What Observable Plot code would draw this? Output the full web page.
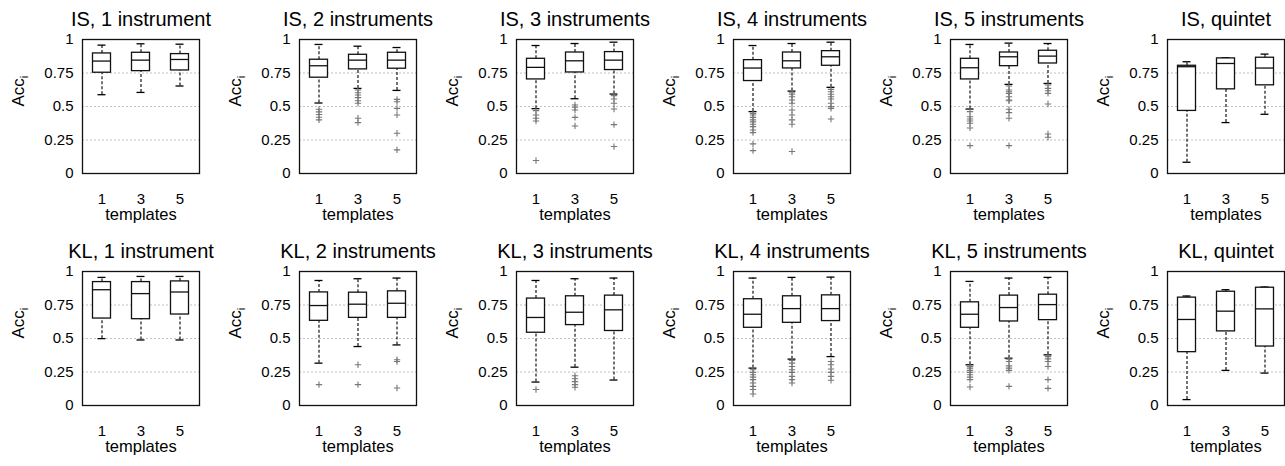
<!DOCTYPE html>
<html><head><meta charset="utf-8">
<script src="https://cdn.jsdelivr.net/npm/d3@7"></script>
<script src="https://cdn.jsdelivr.net/npm/@observablehq/plot@0.6"></script>
<style>
html,body{margin:0;padding:0;background:#fff;overflow:hidden;}
#chart{position:relative;width:1285px;height:466px;overflow:hidden;}
#chart svg{position:absolute;}
</style></head><body><div id="chart"></div>
<script>
const templates = ["1", "3", "5"];
const yTicks = [0, 0.25, 0.5, 0.75, 1];
const yTickLabels = ["0", "0.25", "0.5", "0.75", "1"];
const gridValues = [0.25, 0.5, 0.75];
const titles = ["IS, 1 instrument", "IS, 2 instruments", "IS, 3 instruments", "IS, 4 instruments", "IS, 5 instruments", "IS, quintet",
                "KL, 1 instrument", "KL, 2 instruments", "KL, 3 instruments", "KL, 4 instruments", "KL, 5 instruments", "KL, quintet"];

// each box: [lower whisker, Q1, median, Q3, upper whisker] for templates 1, 3, 5
const IS1_box = [[0.588,0.752,0.839,0.896,0.958],[0.605,0.764,0.846,0.901,0.968],[0.653,0.769,0.851,0.891,0.965]];
const IS1_out = [[],[],[]];
const IS2_box = [[0.526,0.715,0.804,0.849,0.963],[0.635,0.777,0.846,0.886,0.95],[0.62,0.782,0.846,0.901,0.94]];
const IS2_out = [[0.48,0.46,0.44,0.42,0.40],[0.623,0.603,0.586,0.566,0.543,0.524,0.412,0.38],[0.553,0.536,0.486,0.437,0.3,0.176]];
const IS3_box = [[0.484,0.702,0.792,0.856,0.955],[0.558,0.754,0.841,0.903,0.97],[0.593,0.772,0.846,0.906,0.98]];
const IS3_out = [[0.469,0.437,0.412,0.392,0.097],[0.511,0.494,0.474,0.419,0.355],[0.581,0.556,0.524,0.481,0.365,0.201]];
const IS4_box = [[0.462,0.69,0.787,0.846,0.955],[0.615,0.784,0.841,0.903,0.97],[0.643,0.804,0.871,0.913,0.98]];
const IS4_out = [[0.449,0.437,0.419,0.4,0.385,0.367,0.35,0.325,0.305,0.221,0.171],[0.603,0.591,0.573,0.548,0.524,0.474,0.437,0.4,0.367,0.164],[0.628,0.61,0.591,0.573,0.556,0.524,0.499,0.486,0.407]];
const IS5_box = [[0.481,0.702,0.789,0.856,0.963],[0.665,0.801,0.871,0.903,0.973],[0.672,0.821,0.876,0.916,0.97]];
const IS5_out = [[0.462,0.424,0.407,0.392,0.375,0.34,0.208],[0.653,0.623,0.61,0.598,0.573,0.548,0.543,0.479,0.454,0.412,0.208],[0.66,0.635,0.618,0.598,0.519,0.295,0.27]];
const ISQ_box = [[0.084,0.467,0.797,0.804,0.834],[0.38,0.628,0.821,0.859,0.864],[0.442,0.658,0.787,0.864,0.891]];
const ISQ_out = [[],[],[]];
const KL1_box = [[0.499,0.649,0.864,0.921,0.956],[0.489,0.644,0.835,0.921,0.963],[0.489,0.679,0.847,0.926,0.963]];
const KL1_out = [[],[],[]];
const KL2_box = [[0.316,0.632,0.746,0.844,0.933],[0.44,0.654,0.756,0.842,0.946],[0.452,0.654,0.763,0.852,0.951]];
const KL2_out = [[0.156],[0.304,0.156],[0.341,0.328,0.131]];
const KL3_box = [[0.175,0.543,0.657,0.798,0.933],[0.286,0.6,0.696,0.815,0.946],[0.19,0.556,0.714,0.82,0.951]];
const KL3_out = [[0.119],[0.222,0.2,0.178,0.156,0.136],[]];
const KL4_box = [[0.279,0.58,0.681,0.793,0.951],[0.346,0.617,0.723,0.815,0.956],[0.365,0.63,0.723,0.822,0.958]];
const KL4_out = [[0.267,0.247,0.23,0.212,0.193,0.168,0.143,0.119,0.086],[0.336,0.316,0.291,0.267,0.247,0.217,0.193,0.168],[0.328,0.304,0.272,0.247,0.217,0.188]];
const KL5_box = [[0.304,0.58,0.681,0.77,0.926],[0.353,0.627,0.731,0.82,0.951],[0.378,0.637,0.753,0.827,0.956]];
const KL5_out = [[0.291,0.279,0.262,0.247,0.23,0.212,0.193,0.138],[0.346,0.328,0.296,0.279,0.262,0.143],[0.365,0.348,0.328,0.291,0.193,0.128]];
const KLQ_box = [[0.044,0.398,0.642,0.805,0.817],[0.262,0.553,0.704,0.849,0.864],[0.242,0.44,0.721,0.879,0.884]];
const KLQ_out = [[],[],[]];

const boxSets = [IS1_box, IS2_box, IS3_box, IS4_box, IS5_box, ISQ_box, KL1_box, KL2_box, KL3_box, KL4_box, KL5_box, KLQ_box];
const outSets = [IS1_out, IS2_out, IS3_out, IS4_out, IS5_out, ISQ_out, KL1_out, KL2_out, KL3_out, KL4_out, KL5_out, KLQ_out];

const font = "'Liberation Sans', Arial, Helvetica, sans-serif";
const chart = document.getElementById("chart");
const tickTexts = new Set([...templates, ...yTickLabels]);

titles.forEach((title, i) => {
  const row = Math.floor(i / 6), col = i % 6;
  const boxes = templates.map((t, j) => {
    const b = boxSets[i][j];
    return {t, lo: b[0], q1: b[1], med: b[2], q3: b[3], hi: b[4]};
  });
  const outs = templates.flatMap((t, j) => outSets[i][j].map(v => ({t, v})));
  const svg = Plot.plot({
    width: 217, height: 233,
    marginLeft: 82, marginRight: 18, marginTop: 39, marginBottom: 60,
    style: {fontFamily: font, color: "#000", background: "transparent", overflow: "visible"},
    x: {type: "band", domain: templates, padding: 0, axis: null},
    y: {domain: [0, 1], axis: null},
    marks: [
      Plot.ruleY(gridValues, {stroke: "#b0b0b0", strokeDasharray: "2,2", strokeWidth: 0.8}),
      Plot.axisX(templates, {fontSize: 15, tickSize: 0, tickPadding: 20, label: null, fill: "#000"}),
      Plot.axisY(yTicks, {fontSize: 15, tickSize: 0, tickPadding: 9, label: null, fill: "#000",
                          tickFormat: d => yTickLabels[yTicks.indexOf(d)]}),
      Plot.ruleX(boxes, {x: "t", y1: "q3", y2: "hi", stroke: "#000", strokeWidth: 1.1, strokeDasharray: "3,2"}),
      Plot.ruleX(boxes, {x: "t", y1: "lo", y2: "q1", stroke: "#000", strokeWidth: 1.1, strokeDasharray: "3,2"}),
      Plot.tickY(boxes, {x: "t", y: "hi", insetLeft: 15.5, insetRight: 15.5, stroke: "#000", strokeWidth: 1.3}),
      Plot.tickY(boxes, {x: "t", y: "lo", insetLeft: 15.5, insetRight: 15.5, stroke: "#000", strokeWidth: 1.3}),
      Plot.barY(boxes, {x: "t", y1: "q1", y2: "q3", insetLeft: 10.5, insetRight: 10.5, fill: "white", stroke: "#111", strokeWidth: 1.3}),
      Plot.tickY(boxes, {x: "t", y: "med", insetLeft: 10.5, insetRight: 10.5, stroke: "#111", strokeWidth: 1.3}),
      Plot.dot(outs, {x: "t", y: "v", symbol: "plus", r: 2.2, stroke: "#777", strokeWidth: 1.1}),
      Plot.frame({stroke: "#111", strokeWidth: 1.3}),
      Plot.text([title], {text: d => d, frameAnchor: "top", dy: -20, fontSize: 20, lineAnchor: "middle", fill: "#000"}),
      Plot.text(["templates"], {text: d => d, frameAnchor: "bottom", dy: 41, fontSize: 16.5, lineAnchor: "middle", fill: "#000"}),
      Plot.text(["Acc"], {text: d => d, frameAnchor: "left", dx: -64, rotate: -90, fontSize: 17, lineAnchor: "middle", fill: "#000"})
    ]
  });
  svg.style.left = Math.round(col * 216.9) + "px";
  svg.style.top = (row * 232) + "px";
  const sel = d3.select(svg);
  sel.selectAll("text").filter(function() { return tickTexts.has(this.textContent); })
    .style("font-size", "15px");
  sel.selectAll("text").filter(function() { return this.textContent === "Acc"; })
    .append("tspan").attr("dy", "0.35em").attr("font-size", 11).text("i");
  chart.appendChild(svg);
});
</script>
</body></html>
